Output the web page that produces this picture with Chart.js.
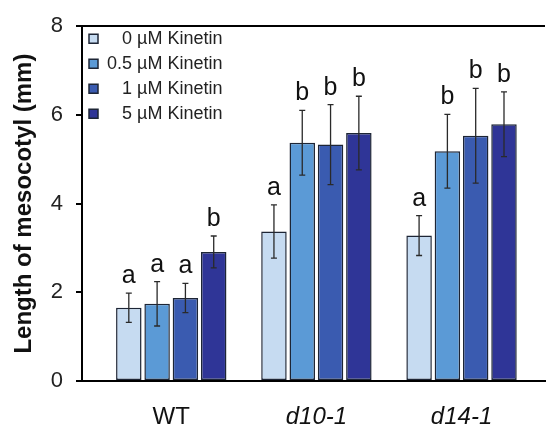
<!DOCTYPE html>
<html>
<head>
<meta charset="utf-8">
<script src="https://cdn.jsdelivr.net/npm/chart.js@4.4.1/dist/chart.umd.min.js"></script>
<style>
  body { margin: 0; background: #fff; }
  #wrap { width: 546px; height: 426px; }
</style>
</head>
<body>
<div id="wrap"><canvas id="bar-chart"></canvas></div>
<script>
// groups on the x axis
const groups = ['WT', 'd10-1', 'd14-1']

// mean mesocotyl length (mm) per kinetin level, one value per group
const kin0 = [1.65, 3.37, 3.28]
const kin05 = [1.74, 5.37, 5.18]
const kin1 = [1.87, 5.33, 5.53]
const kin5 = [2.91, 5.59, 5.79]

// error bars (+/-)
const err0 = [0.33, 0.60, 0.45]
const err05 = [0.50, 0.73, 0.83]
const err1 = [0.33, 0.90, 1.07]
const err5 = [0.36, 0.83, 0.73]

// significance letters
const let0 = ['a', 'a', 'a']
const let05 = ['a', 'b', 'b']
const let1 = ['a', 'b', 'b']
const let5 = ['b', 'b', 'b']

const yTicks = [0, 2, 4, 6, 8]

const FONT = '"Liberation Sans", Arial, Helvetica, sans-serif'

function series(label, values, errs, letters, color) {
  return {
    label: label,
    data: values.map((v, i) => ({ x: i, y: v })),
    errs: errs,
    letters: letters,
    backgroundColor: color,
    borderColor: '#1d2535',
    borderWidth: 1.5,
    borderSkipped: false,
    categoryPercentage: 0.78,
    barPercentage: 0.9
  }
}

// error bars + letters on top of bars
const errorBars = {
  id: 'errorBars',
  afterDatasetsDraw(chart) {
    const ctx = chart.ctx
    const y = chart.scales.y
    ctx.save()
    chart.data.datasets.forEach((ds, di) => {
      const meta = chart.getDatasetMeta(di)
      meta.data.forEach((bar, i) => {
        const v = ds.data[i].y
        const e = ds.errs[i]
        const top = y.getPixelForValue(v + e)
        const bot = y.getPixelForValue(v - e)
        ctx.strokeStyle = '#2a2a2a'
        ctx.lineWidth = 1.3
        ctx.beginPath()
        ctx.moveTo(bar.x, top)
        ctx.lineTo(bar.x, bot)
        ctx.moveTo(bar.x - 3, top)
        ctx.lineTo(bar.x + 3, top)
        ctx.moveTo(bar.x - 3, bot)
        ctx.lineTo(bar.x + 3, bot)
        ctx.stroke()
        ctx.fillStyle = '#111'
        ctx.font = '25px ' + FONT
        ctx.textAlign = 'center'
        ctx.textBaseline = 'alphabetic'
        ctx.fillText(ds.letters[i], bar.x, top - 10)
      })
    })
    ctx.restore()
  }
}

const chartCanvas = document.querySelector('#bar-chart')

const barChart = new Chart(chartCanvas, {
  type: 'bar',
  data: {
    datasets: [
      series('   0 µM Kinetin', kin0, err0, let0, '#c6dbf1'),
      series('0.5 µM Kinetin', kin05, err05, let05, '#5b9ad6'),
      series('   1 µM Kinetin', kin1, err1, let1, '#3a5bb0'),
      series('   5 µM Kinetin', kin5, err5, let5, '#2f3597')
    ]
  },
  options: {
    responsive: true,
    maintainAspectRatio: false,
    animation: false,
    layout: { padding: { top: 18, right: 1, left: 0, bottom: 0 } },
    plugins: {
      tooltip: { enabled: false },
      legend: {
        position: 'chartArea',
        align: 'start',
        title: { display: true, text: '', font: { size: 4 }, padding: { top: 0, bottom: 18 } },
        labels: {
          boxWidth: 9,
          boxHeight: 9,
          padding: 7,
          color: '#222',
          font: { family: FONT, size: 18 }
        }
      }
    },
    scales: {
      x: {
        type: 'linear',
        offset: false,
        min: -0.615,
        max: 2.575,
        afterBuildTicks: scale => {
          scale.ticks = groups.map((g, i) => ({ value: i }))
        },
        afterFit: scale => { scale.height = 45 },
        grid: { display: false, offset: false },
        border: { color: '#000', width: 2 },
        ticks: {
          padding: 14,
          color: '#111',
          font: ctx => ({
            family: FONT,
            size: 24,
            style: ctx.tick && ctx.tick.value === 0 ? 'normal' : 'italic'
          }),
          callback: value => groups[value]
        }
      },
      y: {
        min: 0,
        max: 8,
        afterBuildTicks: scale => {
          scale.ticks = yTicks.map(v => ({ value: v }))
        },
        afterFit: scale => { scale.width = 82 },
        border: { color: '#000', width: 2 },
        grid: {
          drawOnChartArea: true,
          color: ctx => (ctx.tick && ctx.tick.value === 8 ? '#000' : 'rgba(0,0,0,0)'),
          lineWidth: 2,
          tickColor: '#000',
          tickLength: 6
        },
        ticks: {
          padding: 13,
          color: '#222',
          font: { family: FONT, size: 22 }
        },
        title: {
          display: true,
          text: 'Length of mesocotyl (mm)',
          color: '#111',
          font: { family: FONT, size: 24, weight: 'bold' },
          padding: { top: 10, bottom: 0 }
        }
      }
    }
  },
  plugins: [errorBars]
})
</script>
</body>
</html>
